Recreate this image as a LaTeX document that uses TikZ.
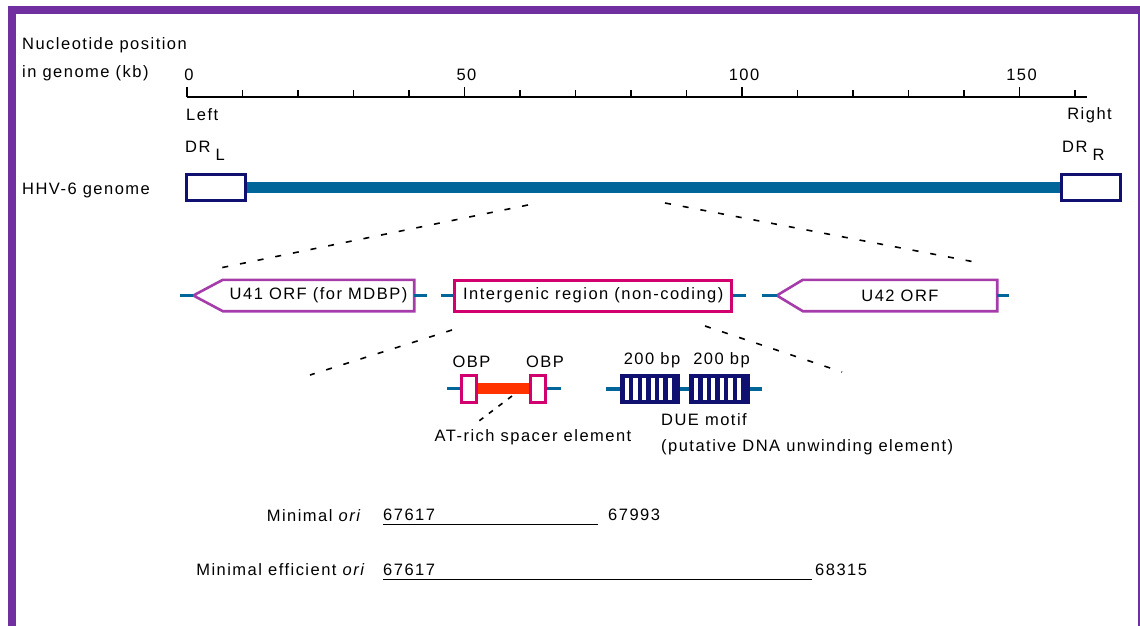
\documentclass[tikz,border=0pt]{standalone}
\usepackage{fontspec}
\setmainfont{Liberation Sans}[LetterSpace=9]
\usepackage{tikz}
\usetikzlibrary{positioning}

\definecolor{framepurple}{RGB}{112,48,160}
\definecolor{navy}{RGB}{16,16,112}
\definecolor{genomeblue}{RGB}{0,102,153}
\definecolor{orfpurple}{RGB}{165,60,170}
\definecolor{igred}{RGB}{210,0,110}
\definecolor{spacerorange}{RGB}{255,51,0}

\begin{document}
\begin{tikzpicture}[x=1pt, y=-1pt,
  lbl/.style={inner sep=0pt, font=\fontsize{16.5}{18}\selectfont},
  drbox/.style={draw=navy, line width=3pt, fill=white, minimum width=59pt, minimum height=26pt, inner sep=0pt},
  orfbox/.style={lbl, minimum width=191pt, minimum height=31pt},
  orfline/.style={draw=orfpurple, line width=2.6pt, line join=miter},
  igbox/.style={lbl, draw=igred, line width=3pt, minimum width=277pt, minimum height=31pt},
  obpbox/.style={draw=igred, line width=3pt, fill=white, minimum width=15pt, minimum height=27pt, inner sep=0pt},
  duebox/.style={fill=navy, minimum width=60pt, minimum height=30pt, inner sep=0pt},
  stub/.style={genomeblue, line width=3.5pt},
  zoomline/.style={dash pattern=on 6pt off 12pt, line width=1.6pt},
  oriline/.style={line width=1.4pt}
]
\useasboundingbox (0,0) rectangle (1140,626);
% frame
\fill[framepurple] (8,6) rectangle (1140,14);
\fill[framepurple] (8,6) rectangle (16,626);
\draw[framepurple, line width=1.2pt] (1139,14) -- (1139,626);

% scale
\node[lbl, anchor=west] (nucpos) at (22,45) {Nucleotide position};
\node[lbl, anchor=west] (inkb) at (22,73) {in genome (kb)};
\draw[line width=1.5pt] (187,97) coordinate (axL) -- (1087,97) coordinate (axR);
\foreach \k in {10,20,30,40,60,70,80,90,110,120,130,140,160}
  \draw[line width=1.4pt] (187+5.55*\k,97) -- ++(0,-7);
\foreach \k in {0,50,100,150}{
  \draw[line width=1.4pt] (187+5.55*\k,97) -- ++(0,-10);
  \node[lbl] (kb\k) at (189+5.55*\k,75) {\k};
}
\node[lbl, anchor=west] (leftend) at (186,115) {Left};
\node[lbl, anchor=east] (rightend) at (1112,115) {Right};

% genome
\node[lbl, anchor=west] (hhv) at (22,190) {HHV-6 genome};
\node[drbox] (drl) at (216,187.5) {};
\node[drbox] (drr) at (1091,187.5) {};
\draw[genomeblue, line width=11pt] (drl.east) -- (drr.west);
\node[lbl, anchor=west] (drltxt) at (185,151) {DR\hspace{5pt}\raisebox{-8pt}{L}};
\node[lbl, anchor=west] (drrtxt) at (1062,151) {DR\hspace{5pt}\raisebox{-8pt}{R}};

\coordinate (zl1) at (528,205);
\coordinate (zl2) at (220,268);
\coordinate (zr1) at (665,203);
\coordinate (zr2) at (980,263);
\draw[zoomline] (zl1) -- (zl2);
\draw[zoomline] (zr1) -- (zr2);

% ORFs and intergenic region
\node[orfbox] (u41) at (318.5,295.5) {U41 ORF (for MDBP)};
\coordinate (u41tip) at ([xshift=-29.5pt]u41.west);
\draw[orfline] (u41.north east) -- (u41.north west) -- (u41tip) -- (u41.south west) -- (u41.south east) -- cycle;
\node[igbox] (ig) at (593.3,295.5) {Intergenic region (non-coding)};
\node[orfbox, minimum width=194pt] (u42) at (900,295.5) {U42 ORF};
\coordinate (u42tip) at ([xshift=-26pt]u42.west);
\draw[orfline] (u42.north east) -- (u42.north west) -- (u42tip) -- (u42.south west) -- (u42.south east) -- cycle;
\draw[stub] ([xshift=-13pt]u41tip) -- (u41tip);
\draw[stub] (u41.east) -- ++(13,0);
\draw[stub] ([xshift=-12pt]ig.west) -- (ig.west);
\draw[stub] (ig.east) -- ++(13,0);
\draw[stub] ([xshift=-15pt]u42tip) -- (u42tip);
\draw[stub] (u42.east) -- ++(12,0);

\coordinate (il1) at (452,330);
\coordinate (il2) at (310,375);
\coordinate (ir1) at (705,326);
\coordinate (ir2) at (842,372);
\draw[zoomline] (il1) -- (il2);
\draw[zoomline] (ir1) -- (ir2);

% origin elements
\node[obpbox] (obp1) at (469,388.5) {};
\node[obpbox] (obp2) at (538.3,388.5) {};
\draw[stub] ([xshift=-13pt]obp1.west) -- (obp1.west);
\draw[stub] (obp2.east) -- ++(14,0);
\draw[spacerorange, line width=11pt] (obp1.east) -- (obp2.west);
\node[obpbox] at (obp1) {};
\node[obpbox] at (obp2) {};
\node[lbl] (obp1txt) at (471.5,362) {OBP};
\node[lbl] (obp2txt) at (545,362) {OBP};
\coordinate (at1) at (512,396);
\coordinate (at2) at (475,424);
\draw[zoomline, dash pattern=on 5pt off 7pt] (at1) -- (at2);
\node[lbl] (atrich) at (533,437) {AT-rich spacer element};

\node[duebox] (due1) at (650,389) {};
\node[duebox, minimum width=61pt] (due2) at (719.7,389) {};
\foreach \b in {due1,due2}
  \foreach \i in {0,...,5}
    \fill[white] ([xshift=5pt+\i*8.6pt, yshift=-4pt]\b.north west) rectangle ++(4.2,22);
\draw[stub] ([xshift=-14pt]due1.west) -- (due1.west);
\draw[stub] (due1.east) -- (due2.west);
\draw[stub] (due2.east) -- ++(12,0);
\node[lbl] (bp1) at (652,360) {200 bp};
\node[lbl] (bp2) at (721.5,360) {200 bp};
\node[lbl, anchor=west] (duetxt) at (661,420) {DUE motif};
\node[lbl, anchor=west] (duenote) at (661,447) {(putative DNA unwinding element)};

% minimal origins
\node[lbl, anchor=east] (minori) at (362,516) {Minimal \textit{ori}};
\node[lbl, anchor=west] (s1) at (383,515) {67617};
\node[lbl, anchor=west] (e1) at (608,515) {67993};
\draw[oriline] ([yshift=-4pt]s1.base west) -- ([yshift=-4pt, xshift=-10pt]e1.base west);
\node[lbl, anchor=east] (mineff) at (366,570) {Minimal efficient \textit{ori}};
\node[lbl, anchor=west] (s2) at (383,570) {67617};
\node[lbl, anchor=west] (e2) at (815,570) {68315};
\draw[oriline] ([yshift=-4pt]s2.base west) -- ([yshift=-4pt, xshift=-3pt]e2.base west);
\end{tikzpicture}
\end{document}
